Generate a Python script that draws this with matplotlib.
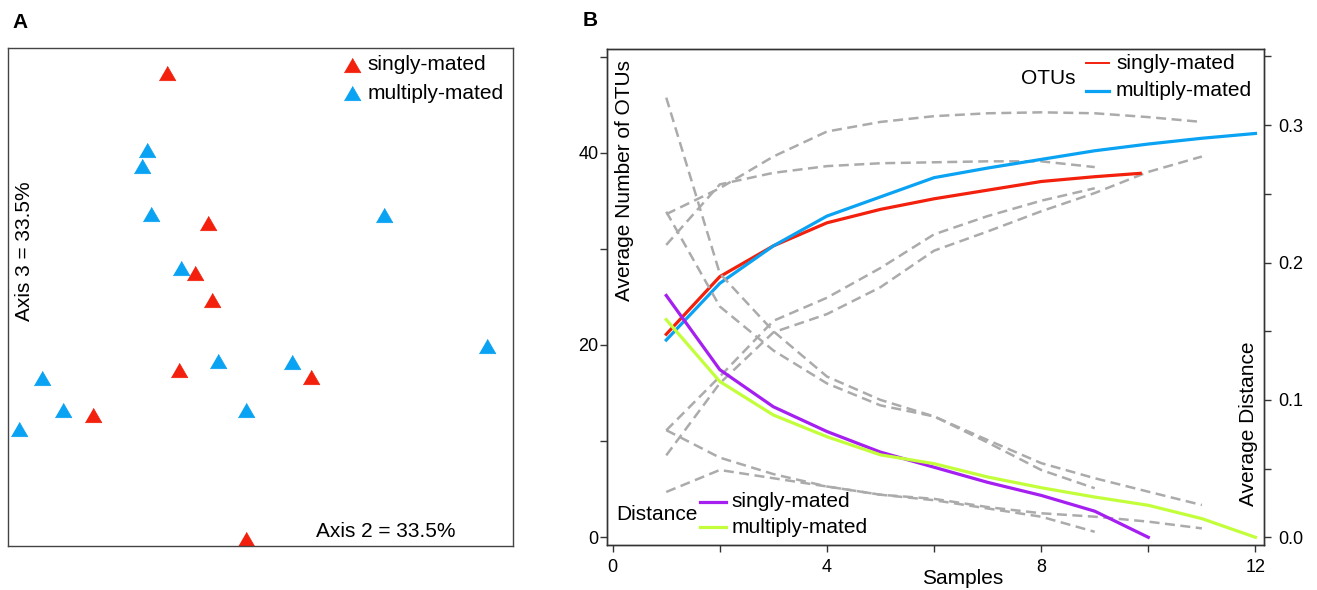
import matplotlib
matplotlib.use("Agg")
import matplotlib.pyplot as plt

plt.rcParams['font.family'] = ['Liberation Sans', 'DejaVu Sans']

W, H = 1317, 590

# ---- panel A: PCoA scores (axis 2, axis 3) ----
single_ax2 = [-0.183, -0.102, -0.128, -0.094, -0.160, -0.330, 0.102, -0.028]
single_ax3 = [0.450, 0.148, 0.048, -0.006, -0.146, -0.237, -0.160, -0.485]
multi_ax2 = [-0.223, -0.233, -0.216, -0.157, 0.245, -0.431, -0.390, -0.477,
             -0.082, -0.028, 0.063, 0.449]
multi_ax3 = [0.296, 0.264, 0.168, 0.058, 0.165, -0.163, -0.227, -0.264,
             -0.128, -0.227, -0.130, -0.098]

# ---- panel B: rarefaction of OTUs and distance ----
samples_single = [1, 2, 3, 4, 5, 6, 7, 8, 9, 9.85]
samples_multi = [1, 2, 3, 4, 5, 6, 7, 8, 9, 10, 11, 12]
otu_single = [21.1, 27.1, 30.3, 32.7, 34.1, 35.2, 36.1, 37.0, 37.5, 37.85]
otu_multi = [20.5, 26.4, 30.3, 33.4, 35.4, 37.4, 38.4, 39.3, 40.2, 40.9, 41.5, 42.0]

dist_samples_single = [1, 2, 3, 4, 5, 6, 7, 8, 9, 10]
dist_single = [0.176, 0.122, 0.095, 0.077, 0.062, 0.051, 0.040, 0.0305, 0.019, 0.0]
dist_multi = [0.1584, 0.1134, 0.089, 0.0732, 0.060, 0.0536, 0.0439, 0.0361,
              0.0293, 0.0233, 0.0136, 0.0]

# +/- sd curves (grey dashed)
sd_samples_single = [1, 2, 3, 4, 5, 6, 7, 8, 9]
sd_samples_multi = [1, 2, 3, 4, 5, 6, 7, 8, 9, 10, 11]
otu_single_up = [30.4, 36.7, 37.9, 38.6, 38.9, 39.0, 39.1, 39.1, 38.5]
otu_single_lo = [11.1, 16.7, 22.5, 24.9, 28.0, 31.5, 33.4, 35.0, 36.3]
otu_multi_up = [33.6, 36.3, 39.6, 42.2, 43.2, 43.8, 44.1, 44.2, 44.1, 43.7, 43.2]
otu_multi_lo = [8.5, 16.0, 21.3, 23.2, 26.0, 29.8, 31.8, 33.9, 35.8, 38.0, 39.6]
dist_single_up = [0.32, 0.192, 0.150, 0.117, 0.100, 0.088, 0.069, 0.049, 0.0357]
dist_single_lo = [0.033, 0.049, 0.043, 0.037, 0.031, 0.027, 0.021, 0.015, 0.004]
dist_multi_up = [0.237, 0.168, 0.136, 0.112, 0.096, 0.088, 0.0708, 0.054, 0.043, 0.0332, 0.0235]
dist_multi_lo = [0.078, 0.058, 0.046, 0.037, 0.031, 0.028, 0.022, 0.0175, 0.015, 0.0114, 0.0065]

RED = '#f2200c'
BLUE = '#0aa2f2'
PURPLE = '#a51ff0'
GREEN = '#c2ff3a'
GREY = '#ababab'
FS = 15
TFS = 13


def rect(x0, y0, x1, y1):
    # pixel box -> figure fraction [left, bottom, width, height]
    return [x0 / W, 1 - y1 / H, (x1 - x0) / W, (y1 - y0) / H]


def fp(x, y):
    return x / W, 1 - y / H


fig = plt.figure(figsize=(W / 100, H / 100), dpi=100)

# ================= panel A =================
axA = fig.add_axes(rect(8.3, 48.3, 513.3, 546))
tri = [(-1, -0.866), (1, -0.866), (0, 0.866)]
axA.plot(multi_ax2, multi_ax3, ls='none', marker=tri, ms=12, color=BLUE, mec=BLUE, mew=0.5)
axA.plot(single_ax2, single_ax3, ls='none', marker=tri, ms=12, color=RED, mec=RED, mew=0.5)
axA.set_xlim(-0.498, 0.502)
axA.set_ylim(-0.5, 0.5)
axA.set_xticks([])
axA.set_yticks([])
for s in axA.spines.values():
    s.set_color('#444444')
    s.set_linewidth(1.0)

fig.text(*fp(20, 23), 'A', fontsize=15, fontweight='bold', ha='center', va='center')
fig.text(*fp(25, 251), 'Axis 3 = 33.5%', fontsize=FS, rotation=90, ha='center', va='center')
fig.text(*fp(386, 531.7), 'Axis 2 = 33.5%', fontsize=FS, ha='center', va='center')

for yy, col, lab in [(65, RED, 'singly-mated'), (93.3, BLUE, 'multiply-mated')]:
    fig.lines.append(plt.Line2D([351.7 / W], [1 - yy / H], transform=fig.transFigure,
                                ls='none', marker=tri, ms=12, color=col, mec=col, mew=0.5))
    fig.text(*fp(367.7, yy), lab, fontsize=FS, ha='left', va='center')

# ================= panel B =================
ax = fig.add_axes(rect(607, 49, 1264, 545))
ax2 = ax.twinx()

dash = dict(color=GREY, lw=1.8, dashes=(4, 2.2))
for yv in [otu_single_up, otu_single_lo]:
    ax.plot(sd_samples_single, yv, **dash)
for yv in [otu_multi_up, otu_multi_lo]:
    ax.plot(sd_samples_multi, yv, **dash)
for yv in [dist_single_up, dist_single_lo]:
    ax2.plot(sd_samples_single, yv, **dash)
for yv in [dist_multi_up, dist_multi_lo]:
    ax2.plot(sd_samples_multi, yv, **dash)

ax.plot(samples_single, otu_single, color=RED, lw=2.3, zorder=5)
ax.plot(samples_multi, otu_multi, color=BLUE, lw=2.3, zorder=5)
ax2.plot(dist_samples_single, dist_single, color=PURPLE, lw=2.3, zorder=5)
ax2.plot(samples_multi, dist_multi, color=GREEN, lw=2.3, zorder=5)

ax.set_xlim(-0.106, 12.16)
ax.set_ylim(-0.83, 50.79)
ax2.set_ylim(-0.0056, 0.3554)

ax.set_xticks([0, 4, 8, 12])
ax.set_xticks([2, 6, 10], minor=True)
ax.set_yticks([0, 20, 40])
ax.set_yticks([10, 30, 50], minor=True)
ax2.set_yticks([0, 0.1, 0.2, 0.3])
ax2.set_yticklabels(['0.0', '0.1', '0.2', '0.3'])
ax2.set_yticks([0.05, 0.15, 0.25, 0.35], minor=True)

ax.tick_params(axis='y', which='both', direction='out', length=5, width=1, pad=1,
               labelsize=TFS, color='#333333')
ax.tick_params(axis='x', which='both', direction='out', length=5, width=1, pad=5,
               labelsize=TFS, color='#333333')
ax2.tick_params(axis='y', which='both', direction='out', length=5, width=1, pad=5,
                labelsize=TFS, color='#333333')
for a in (ax, ax2):
    for s in a.spines.values():
        s.set_color('#333333')
        s.set_linewidth(1.0)

fig.text(*fp(590, 20), 'B', fontsize=15, fontweight='bold', ha='center', va='center')
fig.text(*fp(625, 181), 'Average Number of OTUs', fontsize=FS, rotation=90,
         ha='center', va='center')
fig.text(*fp(1249, 424), 'Average Distance', fontsize=FS, rotation=90,
         ha='center', va='center')
fig.text(*fp(963, 578), 'Samples', fontsize=FS, ha='center', va='center')

# OTUs legend
fig.text(*fp(1076, 79), 'OTUs', fontsize=FS, ha='right', va='center')
for yy, col, lw, lab in [(63.3, RED, 1.4, 'singly-mated'), (91, BLUE, 2.3, 'multiply-mated')]:
    fig.lines.append(plt.Line2D([1085.7 / W, 1109.3 / W], [1 - yy / H] * 2,
                                transform=fig.transFigure, color=col, lw=lw))
    fig.text(*fp(1116, yy), lab, fontsize=FS, ha='left', va='center')

# Distance legend
fig.text(*fp(616.7, 515), 'Distance', fontsize=FS, ha='left', va='center')
for yy, col, lab in [(501.7, PURPLE, 'singly-mated'), (527.3, GREEN, 'multiply-mated')]:
    fig.lines.append(plt.Line2D([700 / W, 726 / W], [1 - yy / H] * 2,
                                transform=fig.transFigure, color=col, lw=2.3))
    fig.text(*fp(731.7, yy), lab, fontsize=FS, ha='left', va='center')

fig.savefig('out.png', dpi=100)
